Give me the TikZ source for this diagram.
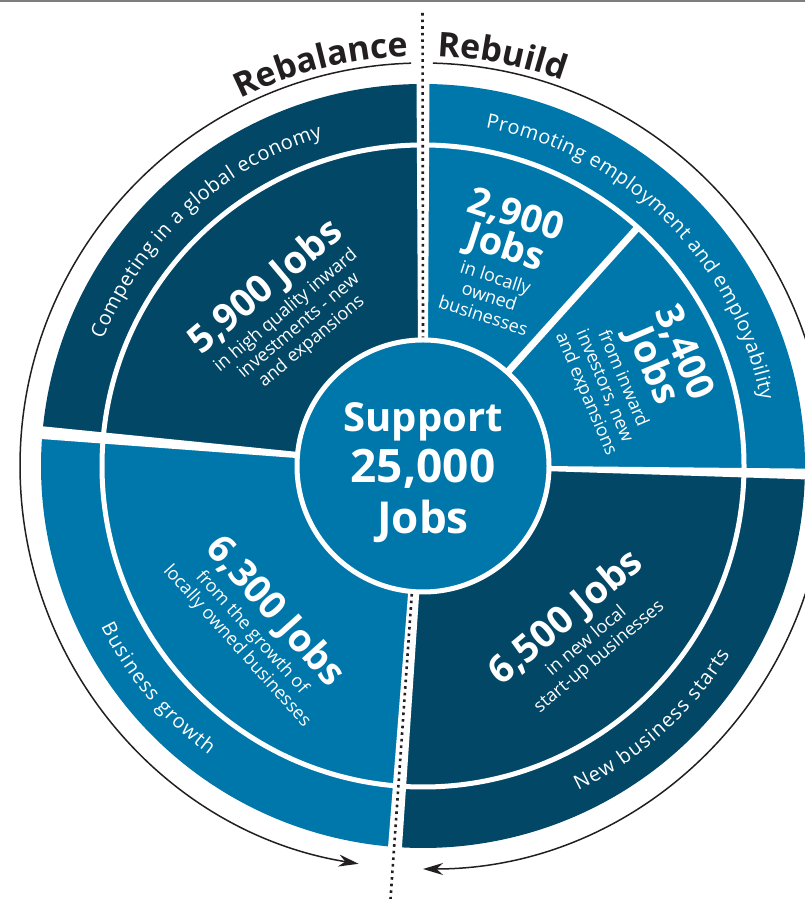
\documentclass[tikz,border=0pt]{standalone}
\usepackage{fontspec}
\setmainfont{Open Sans}
\usepackage{tikz}
\usetikzlibrary{calc, positioning, arrows.meta, decorations.text}

\definecolor{navyseg}{RGB}{2,71,102}
\definecolor{oceanseg}{RGB}{0,119,170}
\definecolor{inkline}{RGB}{35,31,32}
\definecolor{pagerule}{RGB}{125,125,125}

\lineskiplimit=-100pt
\newcommand{\bignum}[1]{{\fontsize{38}{36}\selectfont\bfseries #1}}

\tikzset{
    jobtext/.style={text=white, align=center, inner sep=0pt, font=\fontsize{18}{20}\selectfont},
    ringlabel/.style={decorate, decoration={text along path, text align={fit to path}, text color=white}},
    sidelabel/.style={decorate, decoration={text along path, text align={fit to path}, text color=inkline}},
    sweep/.style={inkline, line width=1.5pt, -{Stealth[length=20pt, width=12pt]}},
    dotline/.style={inkline, line width=2.6pt, dash pattern=on 2.6pt off 4pt}
}

\begin{document}
\begin{tikzpicture}[x=1pt, y=1pt]
    \useasboundingbox (0,0) rectangle (805,899);
    \clip (0,0) rectangle (805,899);
    \coordinate (C) at (423,433);

    % page rule along the top
    \draw[pagerule, line width=2pt] (0,898) -- (805,898);

    % the four quarters
    \fill[navyseg] (C) -- +(90:382) arc[start angle=90, end angle=175, radius=382] -- cycle;
    \fill[oceanseg] (C) -- +(175:382) arc[start angle=175, end angle=265.8, radius=382] -- cycle;
    \fill[navyseg] (C) -- +(265.8:382) arc[start angle=265.8, end angle=358.8, radius=382] -- cycle;
    \fill[oceanseg] (C) -- +(-1.2:382) arc[start angle=-1.2, end angle=90, radius=382] -- cycle;

    % inner ring and the split of the top right quarter
    \draw[white, line width=5pt] (C) circle (321);
    \draw[white, line width=7pt] (C) -- +(48:321);

    % gaps between the quarters
    \foreach \a/\wi/\wo in {90/10/13, 175/6/13, 265.8/11/14, 358.8/5/11}
        \fill[white] ($(C)+(\a:120)+(\a+90:\wi/2)$) -- ($(C)+(\a:392)+(\a+90:\wo/2)$)
            -- ($(C)+(\a:392)+(\a-90:\wo/2)$) -- ($(C)+(\a:120)+(\a-90:\wi/2)$) -- cycle;

    % centre
    \node[circle, fill=oceanseg, draw=white, line width=5pt, minimum size=252pt, inner sep=0pt,
          text=white, align=center, font=\bfseries\fontsize{44}{51}\selectfont] (core) at (C)
          {\rule{0pt}{43pt}{\fontsize{40}{40}\selectfont Support}\\ {\fontsize{46}{46}\selectfont 25,000}\\ {\fontsize{44}{44}\selectfont Jobs}};

    % dotted divide
    \coordinate (dottop) at (422.5,886);
    \coordinate (dotbot) at (390.5,0);
    \draw[dotline] (dottop) -- (core.north);
    \draw[dotline] (core.265.8) -- (dotbot);

    % arrows round the wheel
    \draw[sweep] ($(C)+(91.7:403)$) arc[start angle=91.7, end angle=260.8, radius=403];
    \draw[sweep] ($(C)+(88.6:403)$) arc[start angle=88.6, end angle=-90, radius=403];

    \path[sidelabel, decoration={text={|\bfseries\fontsize{34}{34}\selectfont|Rebalance}}]
        ($(C)+(116.5:410)$) arc[start angle=116.5, end angle=92.5, radius=410];
    \path[sidelabel, decoration={text={|\bfseries\fontsize{34}{34}\selectfont|Rebuild}}]
        ($(C)+(88:410)$) arc[start angle=88, end angle=71, radius=410];

    % names of the quarters
    \path[ringlabel, decoration={text={|\fontsize{20}{20}\selectfont|Competing in a global economy}}]
        ($(C)+(158.5:344)$) arc[start angle=158.5, end angle=107, radius=344];
    \path[ringlabel, decoration={text={|\fontsize{20}{20}\selectfont|Promoting employment and employability}}]
        ($(C)+(79.5:344)$) arc[start angle=79.5, end angle=11, radius=344];
    \path[ringlabel, decoration={text={|\fontsize{20}{20}\selectfont|Business growth}}]
        ($(C)+(206.5:360)$) arc[start angle=206.5, end angle=233.5, radius=360];
    \path[ringlabel, decoration={text={|\fontsize{20}{20}\selectfont|New business starts}}]
        ($(C)+(-64.5:360)$) arc[start angle=-64.5, end angle=-31.5, radius=360];

    % jobs in each part
    \node[jobtext, rotate=40] (jobsglobal) at (286,588)
        {\bignum{5,900 Jobs}\\[5pt] in high quality inward\\ investments - new\\ and expansions};
    \node[jobtext, rotate=-18] (jobslocal) at (501,638)
        {\bignum{2,900}\\[14pt] \bignum{Jobs}\\[6pt] in locally\\ owned\\ businesses};
    \node[jobtext, rotate=-67] (jobsinward) at (638,527)
        {\bignum{3,400}\\[14pt] \bignum{Jobs}\\[6pt] from inward\\ investors, new\\ and expansions};
    \node[jobtext, rotate=-48] (jobsgrowth) at (259,273)
        {\bignum{6,300 Jobs}\\[5pt] from the growth of\\ locally owned businesses};
    \node[jobtext, rotate=40] (jobsstart) at (580,265)
        {\bignum{6,500 Jobs}\\[5pt] in new local\\ start-up businesses};
\end{tikzpicture}
\end{document}
